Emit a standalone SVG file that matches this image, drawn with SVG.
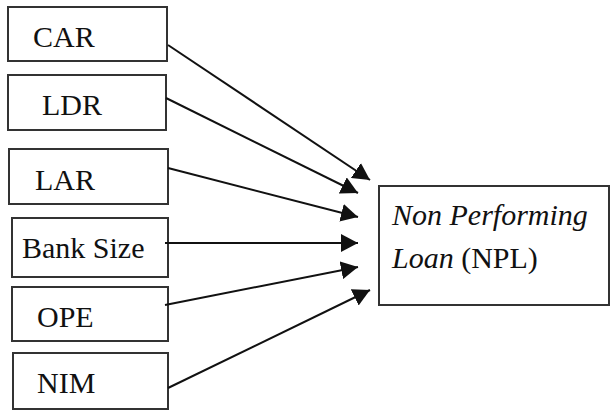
<svg xmlns="http://www.w3.org/2000/svg" width="610" height="410" viewBox="0 0 610 410">
<style>
.box{fill:#fff;stroke:#333;stroke-width:2}
.t{font-family:"Times New Roman",Times,"Nimbus Roman","Nimbus Roman No9 L","FreeSerif","Noto Serif","Tinos","Liberation Serif","DejaVu Serif",serif;font-size:30px;fill:#111}
.i{font-style:italic}
.c{stroke:#111;stroke-width:2;fill:none;marker-end:url(#ah)}
</style>
<defs>
<marker id="ah" markerUnits="userSpaceOnUse" markerWidth="18" markerHeight="18" refX="17" refY="9" orient="auto" viewBox="0 0 18 18">
<path d="M0,0 L17,9 L0,18 z" fill="#111"/>
</marker>
</defs>
<rect width="610" height="410" fill="#fff"/>
<g id="car"><rect class="box" x="8" y="7" width="159" height="54"/><text class="t" x="33" y="47">CAR</text></g>
<g id="ldr"><rect class="box" x="8" y="75" width="158" height="55"/><text class="t" x="42" y="115">LDR</text></g>
<g id="lar"><rect class="box" x="9" y="149" width="159" height="55"/><text class="t" x="35" y="190">LAR</text></g>
<g id="banksize"><rect class="box" x="12" y="218" width="156" height="59"/><text class="t" x="22" y="258">Bank Size</text></g>
<g id="ope"><rect class="box" x="12" y="287" width="156" height="54"/><text class="t" x="37" y="327">OPE</text></g>
<g id="nim"><rect class="box" x="13" y="353" width="155" height="56"/><text class="t" x="37" y="393">NIM</text></g>
<g id="npl"><rect class="box" x="379" y="186" width="230" height="119"/>
<text class="t" x="392" y="225"><tspan class="i">Non Performing</tspan></text>
<text class="t" x="392" y="268"><tspan class="i">Loan</tspan> (NPL)</text></g>
<g id="connectors">
<line class="c" x1="168" y1="45" x2="370" y2="180"/>
<line class="c" x1="166" y1="98" x2="358" y2="193"/>
<line class="c" x1="168" y1="168" x2="358" y2="217"/>
<line class="c" x1="165" y1="243" x2="358" y2="243"/>
<line class="c" x1="165" y1="305" x2="358" y2="267"/>
<line class="c" x1="168" y1="388" x2="370" y2="290"/>
</g>
</svg>
